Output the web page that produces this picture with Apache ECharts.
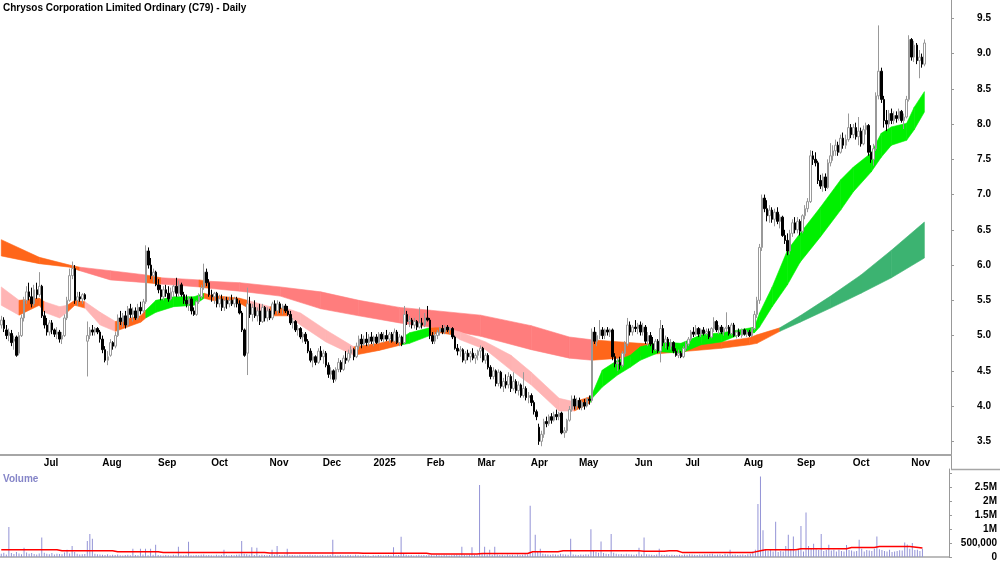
<!DOCTYPE html>
<html>
<head>
<meta charset="utf-8">
<title>C79 - Daily</title>
<script src="https://cdn.jsdelivr.net/npm/echarts@6.0.0/dist/echarts.min.js"></script>
<style>
  html, body { margin: 0; padding: 0; background: #fff; }
  #chart { width: 1000px; height: 562px; }
</style>
</head>
<body>
<div id="chart"></div>
<script>
// daily bars, Jun 2024 -> Nov 2025 (index 0 = first bar on the chart)
var opens = [
  5.15,5.22,5.08,5.00,5.03,4.92,4.98,4.75,5.00,5.25, 5.50,5.62,5.55,5.45,5.65,5.58,5.70,5.28,5.15,5.05,
  5.18,5.08,5.02,5.05,4.95,5.00,5.25,5.50,5.85,5.95, 5.50,5.55,5.52,5.58,4.92,5.00,5.08,5.05,5.10,5.05,
  4.95,4.80,4.65,4.72,4.90,4.85,5.00,5.25,5.20,5.28, 5.15,5.38,5.30,5.35,5.25,5.40,5.35,5.48,6.20,6.00,
  5.85,5.90,5.72,5.65,5.55,5.65,5.60,5.52,5.62,5.70, 5.60,5.72,5.58,5.50,5.45,5.52,5.35,5.30,5.48,5.55,
  5.68,5.90,5.75,5.58,5.55,5.60,5.45,5.52,5.40,5.50, 5.45,5.50,5.45,5.52,5.45,5.32,5.08,4.75,5.45,5.30,
  5.40,5.28,5.35,5.20,5.40,5.25,5.35,5.25,5.45,5.35, 5.45,5.38,5.42,5.35,5.30,5.18,5.20,5.08,5.10,4.98,
  5.02,4.92,4.78,4.65,4.70,4.62,4.78,4.70,4.75,4.58, 4.45,4.50,4.38,4.52,4.62,4.52,4.68,4.65,4.75,4.80,
  4.70,4.85,4.95,4.88,4.95,4.90,4.98,4.92,4.98,4.90, 5.02,4.95,5.00,4.95,5.02,4.92,5.05,4.90,4.98,4.90,
  5.30,5.20,5.22,5.15,5.20,5.12,5.18,5.15,5.25,5.22, 5.00,4.92,5.00,5.05,5.10,5.05,5.12,5.08,5.10,4.98,
  4.82,4.78,4.80,4.65,4.75,4.70,4.75,4.68,4.72,4.78, 4.82,4.65,4.72,4.55,4.42,4.50,4.32,4.48,4.28,4.35,
  4.30,4.42,4.25,4.35,4.22,4.30,4.15,4.25,4.12,4.15, 4.05,3.92,3.70,3.50,3.60,3.78,3.75,3.85,3.80,3.88,
  3.85,3.90,3.62,3.65,3.80,3.95,4.10,4.00,4.08,3.98, 4.05,4.00,4.10,4.08,5.05,4.92,5.00,5.08,5.00,5.08,
  5.05,5.08,4.70,4.60,4.62,4.58,4.75,4.88,5.15,5.05, 5.12,5.10,5.15,5.05,5.12,4.92,5.00,4.88,4.80,4.92,
  4.78,5.10,4.90,4.95,4.85,4.90,4.78,4.72,4.75,4.70, 4.82,4.88,4.95,5.05,5.02,5.10,5.02,5.08,5.03,5.06,
  4.98,5.10,5.20,5.08,5.12,5.05,5.10,5.12,5.03,5.15, 5.00,5.05,5.00,5.08,5.02,5.05,5.00,5.10,5.30,5.50,
  6.25,6.95,6.80,6.70,6.78,6.65,6.75,6.62,6.68,6.42, 6.35,6.20,6.45,6.60,6.50,6.62,6.48,6.70,6.80,6.90,
  7.55,7.50,7.45,7.20,7.12,7.25,7.10,7.45,7.55,7.62, 7.70,7.60,7.80,7.70,7.78,7.95,7.85,7.95,7.82,7.90,
  7.72,7.92,7.98,7.60,7.50,7.65,8.40,8.75,8.35,8.05, 8.00,8.15,8.05,8.12,8.08,8.18,8.05,8.10,8.35,9.20,
  8.95,9.12,8.90,8.95,8.85
];
var highs = [
  5.28,5.26,5.15,5.10,5.08,5.00,5.00,5.05,5.30,5.55, 5.70,5.75,5.68,5.72,5.75,5.90,5.72,5.35,5.25,5.22,
  5.22,5.10,5.12,5.08,5.05,5.30,5.55,5.95,6.05,6.00, 5.62,5.62,5.60,5.60,5.20,5.12,5.15,5.12,5.12,5.08,
  5.00,4.85,4.78,4.95,4.92,5.05,5.30,5.35,5.32,5.35, 5.42,5.45,5.40,5.40,5.45,5.48,5.52,6.28,6.25,6.10,
  5.95,5.92,5.80,5.72,5.70,5.72,5.70,5.68,5.72,5.82, 5.78,5.75,5.62,5.58,5.55,5.55,5.40,5.50,5.60,5.72,
  6.02,5.95,5.80,5.65,5.62,5.62,5.58,5.58,5.55,5.55, 5.55,5.58,5.55,5.55,5.50,5.35,5.10,5.68,5.55,5.45,
  5.50,5.40,5.45,5.45,5.42,5.40,5.38,5.48,5.50,5.50, 5.48,5.45,5.45,5.42,5.35,5.25,5.22,5.15,5.12,5.05,
  5.05,4.95,4.82,4.75,4.72,4.82,4.85,4.80,4.78,4.62, 4.55,4.52,4.55,4.68,4.65,4.72,4.78,4.80,4.85,4.82,
  4.90,5.00,5.02,5.00,5.05,5.02,5.05,5.00,5.02,5.05, 5.05,5.05,5.08,5.05,5.05,5.10,5.08,5.02,5.00,5.42,
  5.35,5.28,5.25,5.25,5.22,5.40,5.25,5.32,5.42,5.25, 5.05,5.05,5.08,5.12,5.15,5.15,5.15,5.12,5.12,5.00,
  4.88,4.85,4.82,4.78,4.80,4.78,4.82,4.75,4.80,4.86, 4.84,4.75,4.75,4.58,4.55,4.52,4.52,4.50,4.40,4.45,
  4.48,4.45,4.48,4.38,4.35,4.32,4.48,4.28,4.20,4.18, 4.08,3.95,3.75,3.65,3.82,3.85,3.88,3.90,3.92,3.95,
  3.92,3.92,3.70,3.82,4.00,4.15,4.15,4.12,4.12,4.08, 4.10,4.12,4.15,5.10,5.12,5.05,5.22,5.12,5.10,5.12,
  5.10,5.10,4.75,4.68,4.70,4.78,4.92,5.25,5.20,5.15, 5.22,5.18,5.20,5.18,5.15,5.05,5.05,4.98,4.95,4.95,
  5.22,5.15,5.00,4.98,4.95,4.92,4.82,4.80,4.78,4.85, 4.92,4.98,5.08,5.12,5.15,5.12,5.10,5.12,5.10,5.10,
  5.12,5.26,5.22,5.15,5.15,5.12,5.33,5.15,5.18,5.18, 5.08,5.10,5.10,5.10,5.08,5.08,5.12,5.35,5.55,6.30,
  7.00,7.00,6.92,6.85,6.82,6.80,6.82,6.72,6.70,6.50, 6.45,6.50,6.65,6.68,6.68,6.65,6.72,6.85,6.95,7.63,
  7.62,7.60,7.48,7.28,7.30,7.30,7.50,7.73,7.70,7.78, 7.75,7.85,7.88,7.85,8.15,8.00,8.00,8.02,8.10,7.95,
  7.98,8.02,8.00,7.70,7.72,8.45,9.40,8.80,8.40,8.20, 8.20,8.22,8.18,8.18,8.22,8.20,8.15,8.40,9.26,9.22,
  9.18,9.15,9.05,9.00,9.20
];
var lows = [
  5.10,5.05,4.95,4.92,4.85,4.80,4.70,4.72,4.98,5.20, 5.45,5.50,5.40,5.42,5.52,5.55,5.25,5.10,5.00,5.00,
  5.02,4.98,4.95,4.90,4.88,4.98,5.22,5.48,5.80,5.45, 5.42,5.48,5.45,5.50,4.42,4.95,5.00,5.00,5.02,4.90,
  4.75,4.62,4.58,4.70,4.80,4.82,4.98,5.15,5.12,5.10, 5.12,5.25,5.20,5.22,5.22,5.30,5.32,5.45,5.95,5.80,
  5.75,5.70,5.60,5.50,5.50,5.55,5.48,5.50,5.55,5.55, 5.55,5.55,5.45,5.40,5.35,5.30,5.28,5.28,5.45,5.52,
  5.65,5.70,5.55,5.48,5.45,5.40,5.40,5.35,5.35,5.38, 5.40,5.42,5.40,5.40,5.30,5.05,4.70,4.44,5.25,5.20,
  5.25,5.20,5.15,5.18,5.20,5.20,5.22,5.22,5.30,5.30, 5.32,5.30,5.32,5.28,5.15,5.10,5.05,5.00,4.95,4.90,
  4.88,4.75,4.62,4.55,4.58,4.60,4.65,4.60,4.55,4.40, 4.38,4.33,4.35,4.48,4.48,4.50,4.60,4.62,4.68,4.65,
  4.68,4.80,4.82,4.85,4.85,4.85,4.88,4.85,4.88,4.88, 4.92,4.90,4.92,4.90,4.90,4.90,4.88,4.85,4.85,4.88,
  5.15,5.12,5.10,5.10,5.08,5.10,5.10,5.12,5.20,4.95, 4.88,4.88,4.95,5.00,5.02,5.02,5.05,5.02,4.95,4.80,
  4.72,4.70,4.62,4.60,4.65,4.62,4.65,4.60,4.65,4.68, 4.62,4.60,4.52,4.38,4.38,4.28,4.28,4.25,4.20,4.25,
  4.25,4.20,4.22,4.18,4.15,4.12,4.12,4.08,4.04,4.00, 3.88,3.80,3.45,3.43,3.55,3.70,3.72,3.75,3.78,3.80,
  3.80,3.60,3.55,3.62,3.78,3.92,3.95,3.95,3.95,3.94, 3.95,3.98,4.02,4.05,4.88,4.85,4.95,4.95,4.95,5.00,
  4.98,4.65,4.55,4.50,4.52,4.55,4.70,4.85,5.00,5.00, 5.05,5.02,5.00,5.00,4.88,4.85,4.85,4.75,4.78,4.75,
  4.62,4.85,4.82,4.80,4.80,4.75,4.70,4.68,4.68,4.68, 4.78,4.85,4.92,4.98,5.00,4.98,4.98,5.00,5.00,4.95,
  4.96,5.05,5.05,5.02,5.02,5.00,5.05,5.00,5.00,4.98, 4.96,4.98,4.97,5.00,4.98,4.98,4.98,5.08,5.25,5.45,
  6.20,6.75,6.62,6.60,6.60,6.55,6.58,6.52,6.40,6.30, 6.14,6.15,6.40,6.45,6.45,6.42,6.45,6.65,6.75,6.88,
  7.42,7.40,7.15,7.08,7.04,7.05,7.08,7.40,7.48,7.55, 7.55,7.58,7.65,7.65,7.75,7.80,7.80,7.78,7.70,7.68,
  7.70,7.85,7.55,7.45,7.41,7.62,8.35,8.30,7.95,7.90, 7.95,8.00,8.00,8.02,8.05,8.02,7.93,8.08,8.32,8.90,
  8.88,8.85,8.65,8.80,8.82
];
var closes = [
  5.22,5.10,5.00,5.05,4.90,4.95,4.72,5.00,5.25,5.50, 5.62,5.55,5.45,5.65,5.58,5.70,5.28,5.15,5.05,5.18,
  5.08,5.02,5.05,4.95,5.00,5.25,5.50,5.85,5.95,5.50, 5.55,5.52,5.58,5.52,5.00,5.08,5.05,5.10,5.05,4.95,
  4.80,4.65,4.70,4.90,4.85,5.00,5.25,5.20,5.28,5.15, 5.38,5.30,5.35,5.25,5.40,5.35,5.48,6.20,6.00,5.85,
  5.90,5.72,5.65,5.55,5.65,5.60,5.52,5.62,5.70,5.60, 5.72,5.58,5.50,5.45,5.52,5.35,5.30,5.48,5.55,5.68,
  5.90,5.75,5.58,5.55,5.60,5.45,5.52,5.40,5.50,5.45, 5.50,5.45,5.52,5.45,5.32,5.08,4.72,5.45,5.30,5.40,
  5.28,5.35,5.20,5.40,5.25,5.35,5.25,5.45,5.35,5.45, 5.38,5.42,5.35,5.30,5.18,5.20,5.08,5.10,4.98,5.02,
  4.92,4.78,4.65,4.70,4.62,4.78,4.70,4.75,4.58,4.45, 4.50,4.38,4.52,4.62,4.52,4.68,4.65,4.75,4.80,4.70,
  4.85,4.95,4.88,4.95,4.90,4.98,4.92,4.98,4.90,5.02, 4.95,5.00,4.95,5.02,4.92,5.05,4.90,4.98,4.88,5.30,
  5.20,5.22,5.15,5.20,5.12,5.18,5.15,5.25,5.22,5.00, 4.92,5.00,5.05,5.10,5.05,5.12,5.08,5.10,4.98,4.82,
  4.78,4.80,4.65,4.75,4.70,4.75,4.68,4.72,4.78,4.82, 4.65,4.72,4.55,4.42,4.50,4.32,4.48,4.28,4.35,4.30,
  4.42,4.25,4.35,4.22,4.30,4.15,4.25,4.12,4.15,4.05, 3.92,3.85,3.50,3.60,3.78,3.75,3.85,3.80,3.88,3.85,
  3.90,3.62,3.65,3.80,3.95,4.10,4.00,4.08,3.98,4.05, 4.00,4.10,4.08,5.05,4.92,5.00,5.08,5.00,5.08,5.05,
  5.08,4.70,4.60,4.62,4.58,4.75,4.88,5.15,5.05,5.12, 5.10,5.15,5.05,5.12,4.92,5.00,4.88,4.80,4.92,4.78,
  5.10,4.90,4.95,4.85,4.90,4.78,4.72,4.75,4.70,4.82, 4.88,4.95,5.05,5.02,5.10,5.02,5.08,5.03,5.06,4.98,
  5.10,5.20,5.08,5.12,5.05,5.10,5.12,5.03,5.15,5.00, 5.05,5.00,5.08,5.02,5.05,5.00,5.10,5.30,5.50,6.25,
  6.95,6.80,6.70,6.78,6.65,6.75,6.62,6.68,6.42,6.35, 6.20,6.45,6.60,6.50,6.62,6.48,6.70,6.80,6.90,7.55,
  7.50,7.45,7.20,7.12,7.25,7.10,7.45,7.55,7.62,7.70, 7.60,7.80,7.70,7.78,7.95,7.85,7.95,7.82,7.90,7.72,
  7.92,7.98,7.60,7.50,7.65,8.40,8.75,8.35,8.05,8.00, 8.15,8.05,8.12,8.08,8.18,8.05,8.10,8.35,9.20,8.95,
  9.12,8.90,8.95,8.85,9.15
];
// volume in thousands of shares
var volumes = [
  120,150,90,1080,140,110,180,130,100,330, 160,120,140,110,90,130,700,150,120,100,
  140,90,120,110,100,160,260,130,400,180, 120,90,100,110,580,830,660,120,100,90,
  80,70,100,60,80,70,90,60,50,70, 80,60,300,70,60,300,90,300,60,300,
  80,440,70,60,50,70,60,50,80,60, 370,60,50,70,550,60,50,70,60,80,
  90,60,70,60,50,80,60,70,260,60, 50,70,60,80,90,580,120,100,80,350,
  70,330,60,80,70,60,70,260,80,400, 70,60,80,300,60,70,60,50,80,60,
  70,60,80,60,70,50,60,70,50,60, 70,620,60,50,70,60,50,70,60,50,
  80,60,50,70,60,50,40,60,50,70, 60,50,60,70,50,350,60,70,730,120,
  80,60,70,50,60,80,60,70,60,80, 60,50,70,60,50,70,60,50,60,70,
  80,60,370,70,60,80,350,70,60,2590, 120,370,90,260,80,370,90,70,80,60,
  90,70,80,60,90,70,80,100,90,1850, 150,800,200,300,120,100,90,80,100,90,
  80,120,100,90,80,660,90,80,70,90, 80,100,90,1000,250,180,150,560,140,120,
  110,830,150,120,100,110,90,120,100,90, 80,100,330,90,700,100,90,80,70,90,
  300,80,70,90,60,80,70,60,80,70, 90,80,100,90,80,70,90,80,100,90,
  110,120,80,90,100,70,120,90,260,80, 90,70,80,90,70,100,120,200,260,1910,
  2900,960,250,220,260,200,1270,180,220,200, 400,800,250,740,220,250,1120,200,1600,400,
  300,480,280,250,830,220,250,440,230,260, 200,260,220,200,430,250,230,200,220,620,
  300,200,250,230,220,300,740,280,250,220, 200,260,180,200,220,240,230,520,450,300,
  500,250,260,220,300
];
// volume average line, [bar index, thousands]
var volAvg = [
  [0,262],[22,262],[24,226],[44,226],[46,190],[62,190],[64,166],[104,166],[106,143],[141,143],
  [143,135],[168,135],[170,107],[188,107],[190,130],[208,125],[210,190],[220,190],[222,226],[252,226],
  [254,205],[262,205],[264,226],[267,226],[269,166],[297,166],[300,226],[302,262],[314,262],[316,298],
  [334,298],[336,340],[345,340],[347,380],[359,380],[364,320]
];
// short-term MA ribbon: [bar index, top, bottom, state of the stretch to the next point]
var fastRibbon = [
  [0,5.69,5.43,'bear'],[7,5.50,5.29,'mix'],[15,5.53,5.43,'mix'],[17,5.48,5.33,'bear'],[23,5.41,5.25,'bear'],
  [26,5.43,5.33,'mix'],[29,5.50,5.43,'mix'],[33,5.48,5.39,'bear'],[39,5.33,5.15,'bear'],[45,5.20,5.06,'mix'],
  [55,5.28,5.19,'mix'],[57,5.36,5.25,'bull'],[61,5.50,5.33,'bull'],[68,5.55,5.41,'bull'],[76,5.55,5.43,'bull'],
  [80,5.60,5.53,'mix'],[83,5.57,5.50,'mix'],[94,5.53,5.46,'mix'],[97,5.50,5.40,'bear'],[106,5.41,5.28,'mix'],
  [113,5.38,5.28,'bear'],[118,5.32,5.15,'bear'],[128,5.08,4.91,'bear'],[139,4.84,4.72,'mix'],[149,4.89,4.79,'mix'],
  [158,4.97,4.87,'bull'],[161,5.04,4.89,'bull'],[169,5.11,5.00,'mix'],[173,5.11,5.04,'mix'],[178,5.08,5.01,'bear'],
  [181,5.05,4.94,'bear'],[191,4.91,4.80,'bear'],[201,4.72,4.51,'bear'],[209,4.48,4.30,'bear'],[220,4.11,3.93,'bear'],
  [226,4.06,3.93,'mix'],[232,4.13,4.04,'bull'],[233,4.17,4.11,'bull'],[237,4.51,4.27,'bull'],[243,4.65,4.44,'bull'],
  [248,4.72,4.55,'bull'],[252,4.84,4.65,'bull'],[260,4.91,4.77,'bull'],[268,4.89,4.75,'bull'],[276,5.01,4.87,'bull'],
  [284,5.04,4.91,'bull'],[291,5.08,5.01,'bull'],[297,5.12,5.04,'bull'],[299,5.32,5.12,'bull'],[304,5.69,5.41,'bull'],
  [310,6.21,5.72,'bull'],[315,6.45,6.04,'bull'],[323,6.82,6.40,'bull'],[331,7.21,6.78,'bull'],[336,7.39,7.04,'bull'],
  [343,7.59,7.32,'bull'],[347,7.87,7.53,'bull'],[351,7.96,7.70,'bull'],[357,8.01,7.77,'bull'],[360,8.24,7.92,'bull'],
  [364,8.46,8.17,'bull']
];
// long-term MA ribbon
var slowRibbon = [
  [0,6.36,6.13,'mix'],[15,6.11,6.02,'mix'],[27,6.00,5.97,'mix'],[31,5.97,5.92,'bear'],[43,5.92,5.79,'bear'],
  [57,5.86,5.75,'mix'],[63,5.82,5.73,'bear'],[78,5.79,5.69,'mix'],[82,5.77,5.67,'bear'],[94,5.75,5.63,'bear'],
  [110,5.69,5.56,'bear'],[126,5.62,5.38,'bear'],[141,5.50,5.28,'bear'],[157,5.40,5.18,'bear'],[169,5.36,5.12,'bear'],
  [189,5.29,4.99,'bear'],[209,5.14,4.80,'bear'],[224,4.98,4.68,'bear'],[233,4.94,4.65,'mix'],[244,4.91,4.68,'mix'],
  [252,4.89,4.72,'mix'],[268,4.86,4.77,'mix'],[284,4.91,4.82,'mix'],[295,4.97,4.87,'mix'],[298,5.01,4.89,'mix'],
  [307,5.11,5.06,'bull'],[315,5.28,5.19,'bull'],[327,5.56,5.39,'bull'],[339,5.86,5.60,'bull'],[351,6.21,5.82,'bull'],
  [364,6.61,6.10,'bull']
];
var fastColors = { bear: '#ffb4b4', mix: '#ff661a', bull: '#00f000' };
var slowColors = { bear: '#ff7d7d', mix: '#ff661a', bull: '#3cb371' };

// month ticks on the time axis
var monthStarts = [16, 39, 61, 82, 105, 126, 146, 167, 187, 208, 227, 249, 269, 292, 313, 335, 358];
var monthNames = ['Jul', 'Aug', 'Sep', 'Oct', 'Nov', 'Dec', '2025', 'Feb', 'Mar', 'Apr', 'May', 'Jun', 'Jul', 'Aug', 'Sep', 'Oct', 'Nov'];

var slots = 375; // bars + empty room before the price axis
var cats = [];
for (var i = 0; i < slots; i++) cats.push(String(i));

var candles = opens.map(function (o, i) { return [o, closes[i], lows[i], highs[i]]; });

function isMonth(index) { return monthStarts.indexOf(index) >= 0; }

function ribbon(samples, colors) {
  return function (params, api) {
    var k = params.dataIndex;
    if (k >= samples.length - 1) return null;
    var a = samples[k], b = samples[k + 1];
    var c = colors[a[3]];
    return {
      type: 'polygon',
      shape: { points: [api.coord([a[0], a[1]]), api.coord([b[0], b[1]]), api.coord([b[0], b[2]]), api.coord([a[0], a[2]])] },
      style: { fill: c, stroke: c, lineWidth: 0.6 }
    };
  };
}

var font = 'Liberation Sans, Arial, sans-serif';
var chart = echarts.init(document.getElementById('chart'));
var option = {
  animation: false,
  backgroundColor: '#fff',
  title: [
    { text: 'Chrysos Corporation Limited Ordinary (C79) - Daily', left: 3, top: 3, padding: 0,
      textStyle: { fontSize: 10, fontWeight: 'bold', color: '#000', fontFamily: font } },
    { text: 'Volume', left: 3, top: 474, padding: 0,
      textStyle: { fontSize: 10, fontWeight: 'bold', color: '#8585c8', fontFamily: font } }
  ],
  // frame lines between the panels
  graphic: [
    { type: 'line', silent: true, shape: { x1: 951.5, y1: 455, x2: 951.5, y2: 470 }, style: { stroke: '#999', lineWidth: 1 } },
    { type: 'line', silent: true, shape: { x1: 951, y1: 469.5, x2: 1000, y2: 469.5 }, style: { stroke: '#a6a6a6', lineWidth: 1.5 } }
  ],
  grid: [
    { left: 0, right: 49, top: 0, height: 455 },
    { left: 0, right: 49, top: 469, height: 88.3 }
  ],
  xAxis: [
    {
      type: 'category', gridIndex: 0, data: cats, boundaryGap: true,
      axisLine: { lineStyle: { color: '#a6a6a6', width: 2 } },
      axisTick: { alignWithLabel: true, interval: isMonth, length: 3, lineStyle: { color: '#a6a6a6' } },
      axisLabel: {
        interval: isMonth, align: 'left', margin: 3, padding: [0, 0, 0, 2],
        fontSize: 10, fontWeight: 'bold', color: '#000', fontFamily: font,
        formatter: function (v) { return monthNames[monthStarts.indexOf(Number(v))] || ''; }
      },
      splitLine: { show: false }
    },
    {
      type: 'category', gridIndex: 1, data: cats, boundaryGap: true, position: 'top',
      axisLine: { lineStyle: { color: '#a6a6a6', width: 1.5 } },
      axisTick: { show: false }, axisLabel: { show: false }, splitLine: { show: false }
    }
  ],
  yAxis: [
    {
      type: 'value', gridIndex: 0, position: 'right', min: 3.306, max: 9.76,
      minInterval: 0.5, maxInterval: 0.5,
      axisLine: { show: true, lineStyle: { color: '#999', width: 1 } },
      axisTick: { show: true, length: 3, lineStyle: { color: '#999' } },
      axisLabel: {
        align: 'right', margin: 40, showMinLabel: false, showMaxLabel: false,
        fontSize: 10, fontWeight: 'bold', color: '#000', fontFamily: font,
        formatter: function (v) { return v.toFixed(1); }
      },
      splitLine: { show: false }
    },
    {
      type: 'value', gridIndex: 1, position: 'right', min: 0, max: 3170, interval: 500,
      axisLine: { show: true, lineStyle: { color: '#999', width: 1 } },
      axisTick: { show: true, length: 3, lineStyle: { color: '#999' } },
      axisLabel: {
        align: 'right', margin: 48, showMaxLabel: false,
        fontSize: 10, fontWeight: 'bold', color: '#000', fontFamily: font,
        formatter: function (v) {
          if (v === 0) return '0';
          if (v === 500) return '500,000';
          if (v >= 3000) return '';
          return (v / 1000) + 'M';
        }
      },
      splitLine: { show: false }
    }
  ],
  series: [
    {
      name: 'long ribbon', type: 'custom', xAxisIndex: 0, yAxisIndex: 0, silent: true, z: 1,
      data: slowRibbon.map(function (s) { return [s[0], s[1], s[2]]; }),
      encode: { x: 0, y: [1, 2] },
      renderItem: ribbon(slowRibbon, slowColors)
    },
    {
      name: 'short ribbon', type: 'custom', xAxisIndex: 0, yAxisIndex: 0, silent: true, z: 2,
      data: fastRibbon.map(function (s) { return [s[0], s[1], s[2]]; }),
      encode: { x: 0, y: [1, 2] },
      renderItem: ribbon(fastRibbon, fastColors)
    },
    {
      name: 'C79', type: 'candlestick', xAxisIndex: 0, yAxisIndex: 0, z: 5,
      data: candles, barWidth: 2,
      itemStyle: { color: '#ffffff', color0: '#000000', borderColor: '#999999', borderColor0: '#000000', borderWidth: 1 }
    },
    {
      name: 'Volume', type: 'bar', xAxisIndex: 1, yAxisIndex: 1,
      data: volumes, barWidth: 1,
      itemStyle: { color: '#9393d6' }
    },
    {
      name: 'Volume avg', type: 'line', xAxisIndex: 1, yAxisIndex: 1, z: 4,
      data: volAvg, symbol: 'none',
      lineStyle: { color: '#ff0000', width: 1.5 }
    }
  ]
};
chart.setOption(option);
</script>
</body>
</html>
